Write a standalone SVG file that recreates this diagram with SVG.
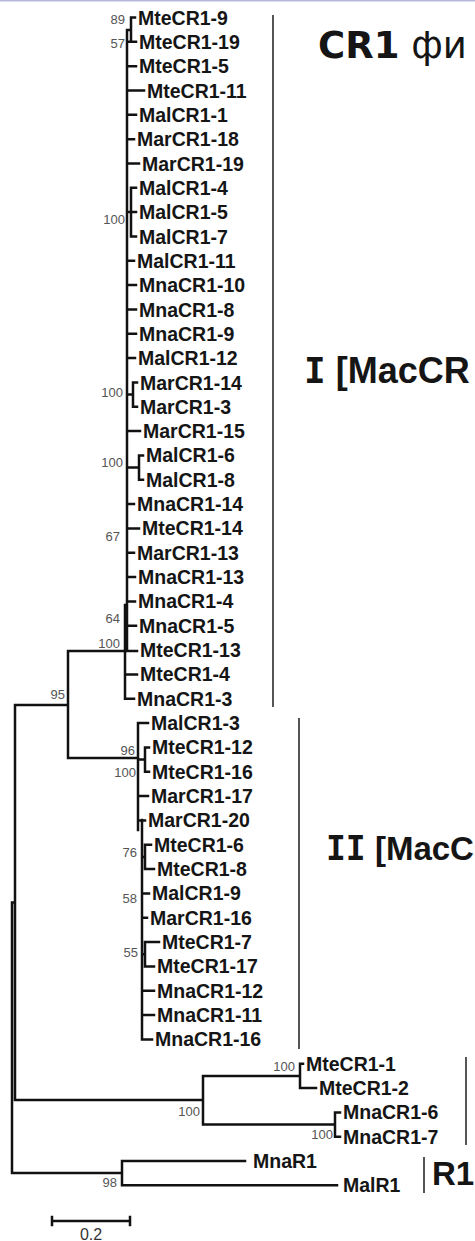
<svg xmlns="http://www.w3.org/2000/svg" width="475" height="1241" viewBox="0 0 475 1241">
<style>
.lb{font-family:"Liberation Sans",Arial,sans-serif;font-weight:bold;font-size:19.5px;fill:#151515}
.bs{font-family:"Liberation Sans",Arial,sans-serif;font-size:13px;fill:#555;text-anchor:end}
.br{fill:none;stroke:#111;stroke-width:2.5;stroke-linecap:square}
.bar{stroke:#555;stroke-width:2}
.tt{font-family:"Liberation Sans",Arial,sans-serif;font-weight:bold;fill:#151515}
</style>
<rect width="475" height="1241" fill="#fff"/>
<line x1="0" y1="0.5" x2="475" y2="0.5" stroke="#b8b8dc" stroke-width="2"/>
<g id="connectors">
<path class="br" d="M131,17.5H135M131,17.5V41.8M128,41.8H136M127,30H131M127,30V651
M127,66.2H136M127,90.5H144M127,114.8H136M127,139.2H134M127,163.5H139
M127,212H131M131,187.8V236.5M131,187.8H136M131,212.1H136M131,236.5H136
M127,260.8H134M127,285.1H136M127,309.5H136M127,333.8H136M127,358.1H135
M127,394.6H133M133,382.5V406.8M133,382.5H137M133,406.8H137
M127,431.1H140M127,467.6H139M139,455.4V479.8M139,455.4H143M139,479.8H143
M127,504.1H134M127,528.4H139M127,552.8H134M127,577.1H135M127,601.4H135M127,625.8H136
M125,605V698.7H134M125,651H137M125,674.4H137
M68,651H127M68,651V758M68,758H138M15,705H68M15,705V1100M12,902.5H15M12,902.5V1173
M138,723.1V830M138,723.1H148M138,759.5H145M145,747.4V771.7M145,747.4H149M145,771.7H149
M138,796.1H148M138,820.4H145M142,820V1039.4H152
M142,856.9H145M145,844.7V869.1M145,844.7H151M145,869.1H154
M142,893.4H149M142,917.7H147M142,954.2H145M145,942V966.4M145,942H159M145,966.4H154
M142,990.7H154M142,1015H154
M15,1100H203M203,1076V1124.5M203,1076H300M300,1063.7V1088M300,1063.7H303M300,1088H316
M203,1124.5H335M335,1112.4V1136.7M335,1112.4H340M335,1136.7H340
M12,1173H122M122,1161V1185.3M122,1161H245M122,1185.3H337
M52,1221H130M52,1217V1225M130,1217V1225"/>
</g>
<g id="bars">
<line class="bar" x1="273" y1="15" x2="273" y2="707"/>
<line class="bar" x1="299" y1="718" x2="299" y2="1049"/>
<line class="bar" x1="466" y1="1057" x2="466" y2="1145"/>
<line class="bar" x1="424" y1="1157" x2="424" y2="1193"/>
</g>
<g id="bootstrap">
<text class="bs" x="125" y="24">89</text>
<text class="bs" x="125" y="48">57</text>
<text class="bs" x="125" y="224">100</text>
<text class="bs" x="123" y="397">100</text>
<text class="bs" x="123" y="467">100</text>
<text class="bs" x="120" y="541">67</text>
<text class="bs" x="120" y="623">64</text>
<text class="bs" x="120" y="648">100</text>
<text class="bs" x="65" y="699">95</text>
<text class="bs" x="135" y="755">96</text>
<text class="bs" x="136" y="777">100</text>
<text class="bs" x="137" y="857">76</text>
<text class="bs" x="137" y="903">58</text>
<text class="bs" x="138" y="957">55</text>
<text class="bs" x="295" y="1071">100</text>
<text class="bs" x="200" y="1116">100</text>
<text class="bs" x="333" y="1139">100</text>
<text class="bs" x="117" y="1187">98</text>
</g>
<g id="leaves">
<text class="lb" x="138" y="24.5">MteCR1-9</text>
<text class="lb" x="139" y="48.8">MteCR1-19</text>
<text class="lb" x="139" y="73.2">MteCR1-5</text>
<text class="lb" x="147" y="97.5">MteCR1-11</text>
<text class="lb" x="139" y="121.8">MalCR1-1</text>
<text class="lb" x="137" y="146.2">MarCR1-18</text>
<text class="lb" x="142" y="170.5">MarCR1-19</text>
<text class="lb" x="139" y="194.8">MalCR1-4</text>
<text class="lb" x="139" y="219.1">MalCR1-5</text>
<text class="lb" x="139" y="243.5">MalCR1-7</text>
<text class="lb" x="137" y="267.8">MalCR1-11</text>
<text class="lb" x="139" y="292.1">MnaCR1-10</text>
<text class="lb" x="139" y="316.5">MnaCR1-8</text>
<text class="lb" x="139" y="340.8">MnaCR1-9</text>
<text class="lb" x="138" y="365.1">MalCR1-12</text>
<text class="lb" x="140" y="389.5">MarCR1-14</text>
<text class="lb" x="140" y="413.8">MarCR1-3</text>
<text class="lb" x="143" y="438.1">MarCR1-15</text>
<text class="lb" x="146" y="462.4">MalCR1-6</text>
<text class="lb" x="146" y="486.8">MalCR1-8</text>
<text class="lb" x="137" y="511.1">MnaCR1-14</text>
<text class="lb" x="142" y="535.4">MteCR1-14</text>
<text class="lb" x="137" y="559.8">MarCR1-13</text>
<text class="lb" x="138" y="584.1">MnaCR1-13</text>
<text class="lb" x="138" y="608.4">MnaCR1-4</text>
<text class="lb" x="139" y="632.8">MnaCR1-5</text>
<text class="lb" x="140" y="657.1">MteCR1-13</text>
<text class="lb" x="140" y="681.4">MteCR1-4</text>
<text class="lb" x="137" y="705.7">MnaCR1-3</text>
<text class="lb" x="151" y="730.1">MalCR1-3</text>
<text class="lb" x="152" y="754.4">MteCR1-12</text>
<text class="lb" x="152" y="778.7">MteCR1-16</text>
<text class="lb" x="151" y="803.1">MarCR1-17</text>
<text class="lb" x="148" y="827.4">MarCR1-20</text>
<text class="lb" x="154" y="851.7">MteCR1-6</text>
<text class="lb" x="157" y="876.1">MteCR1-8</text>
<text class="lb" x="152" y="900.4">MalCR1-9</text>
<text class="lb" x="150" y="924.7">MarCR1-16</text>
<text class="lb" x="162" y="949">MteCR1-7</text>
<text class="lb" x="157" y="973.4">MteCR1-17</text>
<text class="lb" x="157" y="997.7">MnaCR1-12</text>
<text class="lb" x="157" y="1022">MnaCR1-11</text>
<text class="lb" x="155" y="1046.4">MnaCR1-16</text>
<text class="lb" x="306" y="1070.7">MteCR1-1</text>
<text class="lb" x="319" y="1095">MteCR1-2</text>
<text class="lb" x="343" y="1119.4">MnaCR1-6</text>
<text class="lb" x="343" y="1143.7">MnaCR1-7</text>
<text class="lb" x="253" y="1168">MnaR1</text>
<text class="lb" x="343" y="1192.3">MalR1</text>
</g>
<g id="titles">
<text x="318" y="58" style="font-family:'DejaVu Sans',Verdana,sans-serif;font-size:37px;fill:#151515"><tspan font-weight="bold">CR1</tspan> фи</text>
<text class="tt" x="304" y="383" font-size="36"><tspan style="font-family:'DejaVu Sans Mono',monospace">I</tspan> [MacCR</text>
<text class="tt" x="326" y="860" font-size="33"><tspan style="font-family:'DejaVu Sans Mono',monospace">II</tspan> [MacC</text>
<text class="tt" x="432" y="1185" font-size="33">R1</text>
<text x="91" y="1240" text-anchor="middle" style="font-family:'Liberation Sans',Arial,sans-serif;font-size:16px;fill:#333">0.2</text>
</g>
</svg>
